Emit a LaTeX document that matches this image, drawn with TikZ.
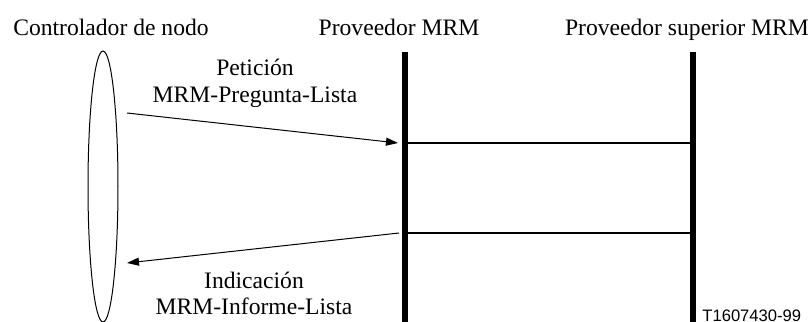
\documentclass[tikz,border=0pt]{standalone}
\usepackage{fontspec}
\setmainfont{Liberation Serif}
\newfontfamily\labelfont{Liberation Sans}
\usetikzlibrary{arrows.meta,shapes.geometric}
\begin{document}
\begin{tikzpicture}[x=0.5pt,y=-0.5pt]
			\newcommand{\mytitle}[1]{%
				\fontsize{11.8}{14}\selectfont{#1}%
			}\newcommand{\mytag}[1]{%
				\fontsize{8.3}{9}\selectfont\labelfont{#1}%
			}%Frame
			\useasboundingbox (0,0) rectangle (811,322);
			%Titles of the three parties
			\node [anchor=base] (ctrl) at (111,35) {\mytitle{Controlador de nodo}};
			\node [anchor=base] (prov) at (399,35) {\mytitle{Proveedor MRM}};
			\node [anchor=base] (sup) at (687,35) {\mytitle{Proveedor superior MRM}};
			%The node controller as a long ellipse
			\node [draw,ellipse,line width=0.5pt,inner sep=0pt,minimum width=15pt,minimum height=135.5pt] (nodo) at (103,186.5) {};
			%Lifelines of the two providers
			\coordinate (provTop) at (405,52);
			\coordinate (provBot) at (405,322);
			\coordinate (supTop) at (693,52);
			\coordinate (supBot) at (693,322);
			\draw [line width=3pt] (provTop) -- (provBot);
			\draw [line width=3pt] (supTop) -- (supBot);
			%Exchanges between the providers
			\coordinate (h1a) at (406,143);
			\coordinate (h1b) at (692,143);
			\coordinate (h2a) at (406,233);
			\coordinate (h2b) at (692,233);
			\draw [line width=1pt] (h1a) -- (h1b);
			\draw [line width=1pt] (h2a) -- (h2b);
			%Request and indication arrows
			\coordinate (req0) at (127,113);
			\coordinate (req1) at (398,143);
			\coordinate (ind0) at (399,233);
			\coordinate (ind1) at (127,263);
			\draw [line width=0.5pt,-{Triangle[length=6pt,width=4pt]}] (req0) -- (req1);
			\draw [line width=0.5pt,-{Triangle[length=6pt,width=4pt]}] (ind0) -- (ind1);
			%Labels of the primitives
			\node [anchor=base] (req) at (255,75) {\mytitle{Petición}};
			\node [anchor=base] (reqname) at (255,102) {\mytitle{MRM-Pregunta-Lista}};
			\node [anchor=base] (ind) at (254,288) {\mytitle{Indicación}};
			\node [anchor=base] (indname) at (254,314) {\mytitle{MRM-Informe-Lista}};
			%Figure tag
			\node [anchor=base west,inner sep=0pt] (tag) at (702,321) {\mytag{T1607430-99}};
\end{tikzpicture}
\end{document}
